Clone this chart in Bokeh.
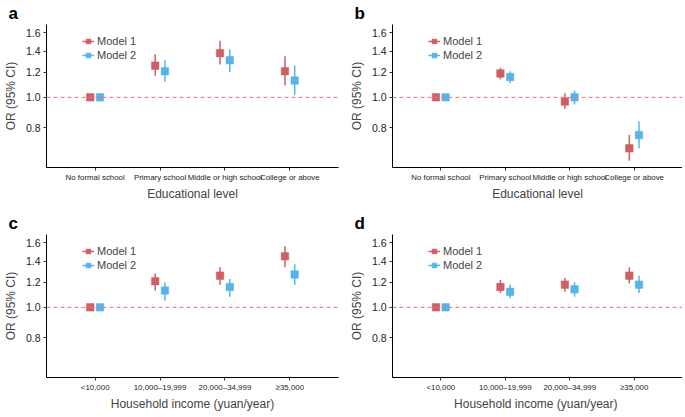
from bokeh.plotting import figure
from bokeh.models import (ColumnDataSource, FactorRange, Range1d, FixedTicker, Span,
                          Legend, LegendItem, Title, NumeralTickFormatter)
from bokeh.transform import dodge
from bokeh.layouts import gridplot
from bokeh.embed import file_html
from bokeh.resources import INLINE

# ---------------- data ----------------
edu_levels = ["No formal school", "Primary school", "Middle or high school", "College or above"]
income_levels = ["<10,000", "10,000–19,999", "20,000–34,999", "≥35,000"]

# panel a (educational level, outcome 1)
a_m1_or = [1.00, 1.26, 1.38, 1.21]
a_m1_lo = [1.00, 1.17, 1.27, 1.09]
a_m1_hi = [1.00, 1.37, 1.51, 1.35]
a_m2_or = [1.00, 1.21, 1.31, 1.13]
a_m2_lo = [1.00, 1.12, 1.20, 1.02]
a_m2_hi = [1.00, 1.31, 1.42, 1.26]

# panel b (educational level, outcome 2)
b_m1_or = [1.00, 1.19, 0.97, 0.69]
b_m1_lo = [1.00, 1.14, 0.92, 0.63]
b_m1_hi = [1.00, 1.24, 1.03, 0.76]
b_m2_or = [1.00, 1.16, 1.00, 0.76]
b_m2_lo = [1.00, 1.11, 0.95, 0.69]
b_m2_hi = [1.00, 1.21, 1.05, 0.84]

# panel c (household income, outcome 1)
c_m1_or = [1.00, 1.21, 1.26, 1.45]
c_m1_lo = [1.00, 1.13, 1.18, 1.34]
c_m1_hi = [1.00, 1.28, 1.34, 1.56]
c_m2_or = [1.00, 1.13, 1.16, 1.27]
c_m2_lo = [1.00, 1.05, 1.08, 1.18]
c_m2_hi = [1.00, 1.20, 1.23, 1.37]

# panel d (household income, outcome 2)
d_m1_or = [1.00, 1.16, 1.18, 1.26]
d_m1_lo = [1.00, 1.11, 1.12, 1.19]
d_m1_hi = [1.00, 1.22, 1.24, 1.34]
d_m2_or = [1.00, 1.12, 1.14, 1.18]
d_m2_lo = [1.00, 1.07, 1.08, 1.11]
d_m2_hi = [1.00, 1.18, 1.20, 1.26]

y_ticks = [0.8, 1.0, 1.2, 1.4, 1.6]
REF_OR = 1.0
series_names = ["Model 1", "Model 2"]

# ---------------- style ----------------
FONT = "Liberation Sans"
RED = "#CD5F66"
BLUE = "#56B4E9"
DASH_RED = "#E5787A"
DODGE = 0.075
FRAME_H = 143


def make_panel(letter, cats, m1, m2, xlabel, fw, bl, br, bt, bb, title_off):
    p = figure(frame_width=fw, frame_height=FRAME_H,
               x_range=FactorRange(factors=cats, range_padding=0.25,
                                   range_padding_units="absolute"),
               y_range=Range1d(0.6, 1.7), y_axis_type="log",
               output_backend="svg", toolbar_location=None,
               min_border_left=bl, min_border_right=br, min_border_top=bt, min_border_bottom=bb)
    p.title = Title(text=letter, align="left", offset=title_off, standoff=3,
                    text_font=FONT, text_font_size="17px", text_font_style="bold",
                    text_color="black")
    p.outline_line_color = None
    p.xgrid.visible = False
    p.ygrid.visible = False
    p.background_fill_color = "white"
    p.border_fill_color = "white"

    items = []
    for (vals, color, off, name) in [(m1, RED, -DODGE, series_names[0]),
                                     (m2, BLUE, DODGE, series_names[1])]:
        orv, lo, hi = vals
        src = ColumnDataSource(dict(cat=cats, orv=orv, lo=lo, hi=hi))
        xd = dodge("cat", off, range=p.x_range)
        seg = p.segment(x0=xd, y0="lo", x1=xd, y1="hi", source=src,
                        line_color=color, line_width=1.5)
        sq = p.scatter(x=xd, y="orv", source=src, marker="square", size=7.5,
                       fill_color=color, line_color=color, line_width=0.5)
        items.append(LegendItem(label=name, renderers=[seg, sq]))

    p.add_layout(Span(location=REF_OR, dimension="width", line_color=DASH_RED,
                      line_dash="4 3", line_width=1))

    legend = Legend(items=items, location=(36, FRAME_H - 10 - 28),
                    glyph_width=12, glyph_height=14, label_height=14, spacing=0,
                    label_standoff=3, padding=0, margin=0,
                    label_text_font=FONT, label_text_font_size="11px",
                    border_line_color=None, background_fill_alpha=0)
    p.add_layout(legend)

    for ax in (p.xaxis[0], p.yaxis[0]):
        ax.axis_line_color = "black"
        ax.axis_line_width = 1
        ax.major_tick_line_color = "#333333"
        ax.major_tick_out = 3
        ax.major_tick_in = 0
        ax.minor_tick_line_color = None
        ax.axis_label_text_font = FONT
        ax.axis_label_text_font_style = "normal"
        ax.major_label_text_font = FONT
        ax.major_label_text_color = "#222222"
    p.yaxis.ticker = FixedTicker(ticks=y_ticks)
    p.yaxis.formatter = NumeralTickFormatter(format="0.0")
    p.yaxis.major_label_text_font_size = "10.5px"
    p.yaxis.axis_label = "OR (95% CI)"
    p.yaxis.axis_label_text_font_size = "12px"
    p.yaxis.axis_label_standoff = 5
    p.yaxis.major_label_standoff = 3
    p.xaxis.major_label_text_font_size = "7.9px"
    p.xaxis.axis_label = xlabel
    p.xaxis.axis_label_text_font_size = "12px"
    p.xaxis.axis_label_standoff = 2
    p.xaxis.major_label_standoff = 2
    return p


pa = make_panel("a", edu_levels, (a_m1_or, a_m1_lo, a_m1_hi), (a_m2_or, a_m2_lo, a_m2_hi),
                "Educational level", 292, 34, 8, 14, 40, -38)
pb = make_panel("b", edu_levels, (b_m1_or, b_m1_lo, b_m1_hi), (b_m2_or, b_m2_lo, b_m2_hi),
                "Educational level", 290, 45, 0, 14, 40, -38)
pc = make_panel("c", income_levels, (c_m1_or, c_m1_lo, c_m1_hi), (c_m2_or, c_m2_lo, c_m2_hi),
                "Household income (yuan/year)", 292, 34, 8, 27, 34, -38)
pd_ = make_panel("d", income_levels, (d_m1_or, d_m1_lo, d_m1_hi), (d_m2_or, d_m2_lo, d_m2_hi),
                 "Household income  (yuan/year)", 290, 45, 0, 27, 34, -38)

grid = gridplot([[pa, pb], [pc, pd_]], toolbar_location=None)

open("out.html", "w").write(file_html(grid, INLINE))
